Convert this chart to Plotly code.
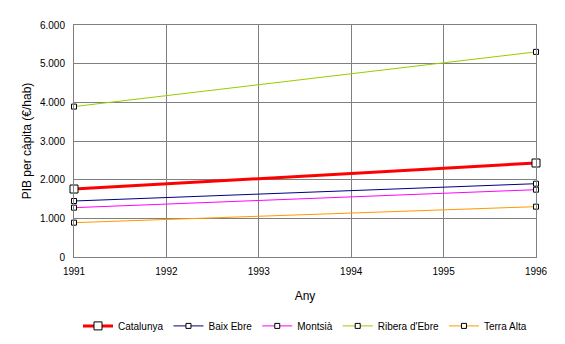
import plotly.graph_objects as go

# GDP per capita (€/hab), first and last year of the period
years = [1991, 1996]
regions = ["Catalunya", "Baix Ebre", "Montsià", "Ribera d'Ebre", "Terra Alta"]
catalunya = [1758, 2431]
baix_ebre = [1448, 1896]
montsia = [1276, 1741]
ribera_ebre = [3890, 5305]
terra_alta = [888, 1302]

series = [catalunya, baix_ebre, montsia, ribera_ebre, terra_alta]
colors = ["#FF0000", "#000080", "#FF00FF", "#99CC00", "#FF9900"]
widths = [3, 1, 1, 1, 1]
msizes = [8, 5, 5, 5, 5]

font = "Liberation Sans, Arial, sans-serif"

fig = go.Figure()
for name, vals, c, w, ms in zip(regions, series, colors, widths, msizes):
    fig.add_trace(go.Scatter(
        x=years, y=vals, name=name, mode="lines+markers",
        line=dict(color=c, width=w),
        marker=dict(symbol="square", size=ms, color="white",
                    line=dict(color="black", width=1)),
        cliponaxis=False,
    ))

fig.update_layout(
    width=565, height=344,
    margin=dict(l=74, r=29, t=25, b=87, autoexpand=False),
    paper_bgcolor="white", plot_bgcolor="white",
    separators=",.",
    font=dict(family=font, size=10, color="black"),
    showlegend=True,
    legend=dict(orientation="h", x=0.5, xanchor="center",
                y=-0.297, yanchor="middle",
                font=dict(family=font, size=10, color="black"),
                itemwidth=30, tracegroupgap=0),
    xaxis=dict(range=[1991, 1996], tickvals=[1991, 1992, 1993, 1994, 1995, 1996],
               showgrid=True, gridcolor="#808080", gridwidth=1,
               showline=True, linecolor="#808080", linewidth=1, mirror=True,
               zeroline=False, ticks="", tickformat="d", ticklabelstandoff=5,
               title=dict(text="Any", standoff=15)),
    yaxis=dict(range=[0, 6000], dtick=1000, tickformat=",d",
               showgrid=True, gridcolor="#808080", gridwidth=1,
               showline=True, linecolor="#808080", linewidth=1, mirror=True,
               zeroline=False, ticks="", ticklabelstandoff=6,
               title=dict(text="PIB per càpita (€/hab)", standoff=5)),
)

fig.write_html("out.html")
